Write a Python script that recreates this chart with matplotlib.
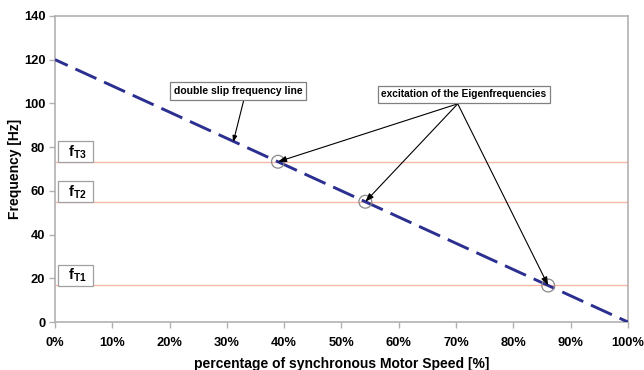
import numpy as np
import matplotlib
matplotlib.use("Agg")
import matplotlib.pyplot as plt

# double slip frequency line: 120 Hz at standstill down to 0 Hz at synchronous speed
speed_pct = [0, 100]
slip_freq = [120, 0]

# torsional eigenfrequencies
eigen_labels = ["T1", "T2", "T3"]
eigen_freq = [16.7, 55.0, 73.3]

x_ticks = [0, 10, 20, 30, 40, 50, 60, 70, 80, 90, 100]
y_ticks = [0, 20, 40, 60, 80, 100, 120, 140]

plt.rcParams['font.family'] = ['Liberation Sans', 'DejaVu Sans']
plt.rcParams['mathtext.fontset'] = 'custom'
plt.rcParams['mathtext.bf'] = 'Liberation Sans:bold'
plt.rcParams['mathtext.rm'] = 'Liberation Sans'

fig = plt.figure(figsize=(6.44, 3.70), dpi=100)
ax = fig.add_axes([0.0854, 0.1297, 0.8896, 0.8273])

spine_col = "#b4b0b0"
for s in ax.spines.values():
    s.set_color(spine_col)
    s.set_linewidth(1.2)

# eigenfrequency levels
for f in eigen_freq:
    ax.axhline(f, color="#f7b9a6", lw=1.0, zorder=1)

ax.plot(speed_pct, slip_freq, color="#2b2f8f", lw=2.1,
        linestyle=(3.1, (7.9, 2.9)), zorder=3)

# crossing points of the slip line with each eigenfrequency
cross_x = [np.interp(f, slip_freq[::-1], speed_pct[::-1]) for f in eigen_freq]
ax.scatter(cross_x, eigen_freq, s=85, facecolors="none",
           edgecolors="#8a8a8a", linewidths=0.9, zorder=4)

box = dict(boxstyle="square,pad=0.35", fc="white", ec="#808080", lw=0.9)

# labels of the eigenfrequencies
for lab, f in zip(eigen_labels, eigen_freq):
    ax.text(3.6, f + 4.6, "  " + r"$\mathbf{f}_{\mathbf{%s}}$" % lab + "  ",
            ha="center", va="center", fontsize=10.5,
            bbox=dict(boxstyle="square,pad=0.12", fc="white", ec="#a0a0a0",
                      lw=0.9), zorder=5)

arrow = dict(arrowstyle="-|>,head_length=0.5,head_width=0.18",
             color="black", lw=0.8, shrinkA=0, shrinkB=0)

ax.annotate("double slip frequency line", xy=(31.1, 82.2), xytext=(32.0, 105.6),
            ha="center", va="center", fontsize=7.5, fontweight="bold",
            bbox=box, arrowprops=dict(arrow, relpos=(0.55, 0.0)), zorder=6)

src = (70.3, 99.8)
for cx, f in zip(cross_x, eigen_freq):
    ax.annotate("", xy=(cx, f), xytext=src,
                arrowprops=arrow, zorder=6)
ax.text(71.4, 104.2, "excitation of the Eigenfrequencies", ha="center",
        va="center", fontsize=7.3, fontweight="bold", bbox=box, zorder=7)

ax.set_xlim(0, 100)
ax.set_ylim(0, 140)
ax.set_xticks(x_ticks)
ax.set_xticklabels([f"{t}%" for t in x_ticks])
ax.set_yticks(y_ticks)
ax.tick_params(axis="both", colors=spine_col, length=4, width=1.0,
               labelcolor="black", labelsize=9.3)
ax.tick_params(axis="y", pad=3)
ax.tick_params(axis="x", pad=7)
for lbl in ax.get_xticklabels() + ax.get_yticklabels():
    lbl.set_fontweight("bold")

ax.set_xlabel("percentage of synchronous Motor Speed [%]", fontsize=10,
              fontweight="bold")
ax.set_ylabel("Frequency [Hz]", fontsize=10, fontweight="bold")
ax.yaxis.set_label_coords(-0.058, 0.5)
ax.xaxis.set_label_coords(0.5, -0.113)

fig.savefig("out.png", dpi=100)
